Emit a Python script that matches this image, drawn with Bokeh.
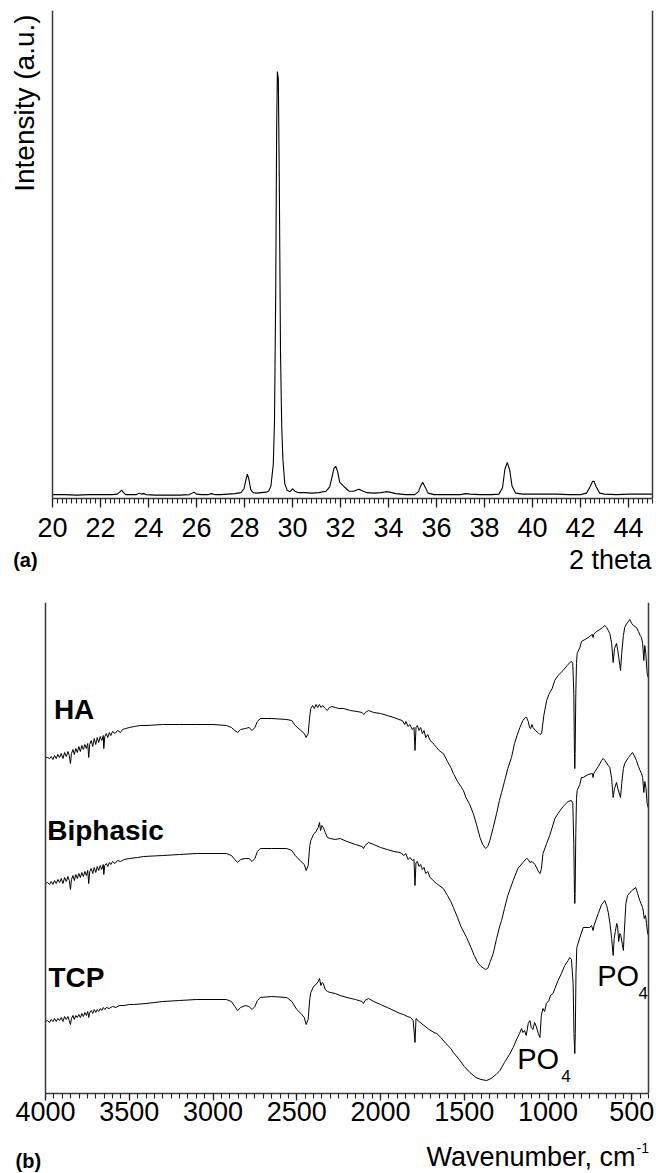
from math import pi
from bokeh.plotting import figure
from bokeh.models import Range1d, SingleIntervalTicker, Label, Span
from bokeh.layouts import column
from bokeh.embed import file_html
from bokeh.resources import INLINE

FONT = "Liberation Sans"

# ---------------- (a) XRD pattern ----------------
two_theta = [20.0, 20.5, 21.0, 21.5, 22.0, 22.5, 22.7, 22.8, 22.88, 22.96, 23.05, 23.3, 23.5, 23.62, 23.7,
             23.8, 23.9, 24.3, 24.8, 25.3, 25.7, 25.82, 25.9, 26.0, 26.2, 26.5, 26.62, 26.75, 27.0, 27.3,
             27.6, 27.85, 27.98, 28.06, 28.12, 28.18, 28.26, 28.36, 28.5, 28.7, 28.9, 29.0, 29.1, 29.2,
             29.25, 29.3, 29.34, 29.37, 29.41, 29.45, 29.5, 29.55, 29.6, 29.68, 29.78, 29.9, 30.0, 30.1,
             30.25, 30.5, 30.8, 31.1, 31.4, 31.55, 31.65, 31.73, 31.8, 31.88, 31.97, 32.1, 32.2, 32.35,
             32.55, 32.7, 32.78, 32.9, 33.1, 33.4, 33.7, 33.9, 34.05, 34.3, 34.7, 35.1, 35.25, 35.35,
             35.43, 35.52, 35.65, 35.9, 36.5, 37.0, 37.2, 37.4, 37.8, 38.3, 38.6, 38.75, 38.85, 38.95,
             39.05, 39.15, 39.3, 39.6, 40.0, 40.5, 41.0, 41.5, 42.0, 42.25, 42.4, 42.5, 42.57, 42.65,
             42.8, 43.0, 43.5, 44.0, 44.5, 45.0]
intensity = [8, 8, 7, 8, 8, 8, 9, 13, 17, 12, 8, 8, 8, 11, 9,
             10, 8, 7, 7, 7, 8, 11, 13, 9, 8, 8, 10, 8, 8, 9,
             10, 12, 20, 38, 50, 40, 18, 12, 11, 12, 13, 15, 25, 70,
             160, 420, 760, 875, 860, 650, 300, 150, 80, 30, 17, 14, 20, 15,
             12, 12, 11, 12, 15, 24, 45, 62, 66, 55, 33, 27, 22, 15,
             15, 18, 19, 16, 12, 11, 12, 14, 13, 10, 8, 8, 14, 27,
             33, 24, 11, 8, 8, 8, 10, 9, 8, 8, 9, 22, 60, 74,
             58, 25, 11, 9, 9, 9, 9, 8, 8, 11, 24, 35, 35, 24,
             11, 9, 8, 9, 9, 9]
xrd_start, xrd_end = 20, 45

# ---------------- (b) FTIR spectra ----------------
ha_wn = [4000, 3988, 3976, 3966, 3956, 3946, 3936, 3926, 3916, 3906, 3896, 3886, 3876, 3866, 3858, 3851, 3845,
         3836, 3828, 3819, 3810, 3801, 3792, 3783, 3774, 3765, 3756, 3748, 3742, 3736, 3727, 3718, 3709, 3700,
         3691, 3682, 3673, 3664, 3655, 3652, 3646, 3637, 3628, 3619, 3610, 3600, 3585, 3570, 3553, 3540, 3520,
         3500, 3470, 3434, 3400, 3300, 3200, 3100, 3000, 2920, 2890, 2870, 2853, 2835, 2807, 2785, 2767, 2750,
         2735, 2718, 2650, 2560, 2530, 2509, 2475, 2455, 2444, 2432, 2422, 2416, 2405, 2395, 2385, 2375, 2365,
         2355, 2345, 2330, 2318, 2305, 2290, 2270, 2250, 2220, 2180, 2140, 2110, 2100, 2090, 2072, 2040, 2000,
         1960, 1920, 1890, 1870, 1855, 1848, 1835, 1825, 1810, 1800, 1794, 1788, 1780, 1770, 1760, 1750, 1740,
         1730, 1718, 1704, 1690, 1680, 1665, 1650, 1635, 1625, 1600, 1580, 1565, 1540, 1520, 1505, 1490, 1470,
         1446, 1425, 1406, 1390, 1372, 1360, 1347, 1327, 1307, 1290, 1277, 1260, 1240, 1218, 1200, 1185, 1168,
         1150, 1135, 1128, 1118, 1110, 1104, 1096, 1090, 1075, 1060, 1048, 1038, 1025, 1008, 995, 989, 975, 960,
         940, 910, 885, 870, 860, 852, 846, 842, 840, 838, 834, 830, 826, 810, 800, 780, 760, 745, 735, 731,
         727, 710, 690, 675, 661, 650, 640, 631, 620, 611, 603, 591, 583, 567, 560, 550, 542, 530, 520, 512,
         500, 490, 472, 460, 450, 442, 435, 428, 422, 416, 408, 400]
ha_t = [336, 336, 335, 337, 334, 338, 335, 339, 336, 340, 335, 341, 337, 342, 338, 330, 340,
        344, 339, 345, 341, 347, 342, 348, 344, 349, 345, 350, 336, 349, 353, 347, 355, 349,
        356, 351, 357, 353, 358, 345, 357, 360, 356, 361, 358, 362, 360, 363, 361, 364, 365,
        366, 367, 368, 368, 369, 369, 369, 369, 368, 366, 363, 361, 364, 365, 366, 363, 366,
        372, 375, 375, 374, 373, 368, 363, 360, 356, 360, 378, 385, 388, 385, 389, 386, 389,
        386, 388, 385, 383, 386, 387, 386, 385, 385, 383, 382, 381, 379, 381, 383, 381, 380,
        378, 376, 374, 373, 369, 372, 367, 369, 364, 366, 343, 366, 368, 363, 366, 360, 363,
        356, 359, 353, 351, 349, 346, 343, 341, 340, 332, 326, 320, 312, 307, 303, 296, 290,
        280, 268, 256, 249, 245, 247, 253, 266, 280, 293, 301, 312, 325, 336, 350, 358, 366,
        373, 376, 376, 372, 366, 365, 369, 366, 363, 361, 359, 360, 378, 393, 399, 401, 405, 413,
        418, 423, 428, 431, 432, 430, 400, 340, 325, 340, 400, 430, 440, 446, 452, 454, 456, 458, 459, 456,
        459, 462, 464, 466, 468, 466, 463, 460, 450, 431, 445, 450, 443, 423, 440, 458, 466, 470, 472, 474,
        470, 468, 466, 462, 458, 456, 450, 433, 448, 440, 420, 415]

bi_wn = [4000, 3988, 3976, 3966, 3956, 3946, 3936, 3926, 3916, 3906, 3896, 3886, 3876, 3866, 3858, 3851, 3845,
         3836, 3828, 3819, 3810, 3801, 3792, 3783, 3774, 3765, 3756, 3748, 3742, 3736, 3727, 3718, 3709, 3700,
         3691, 3682, 3673, 3664, 3655, 3652, 3646, 3637, 3628, 3619, 3610, 3600, 3585, 3570, 3553, 3530, 3500,
         3450, 3414, 3300, 3200, 3100, 3000, 2920, 2890, 2870, 2853, 2835, 2807, 2785, 2767, 2750, 2735, 2718,
         2650, 2560, 2530, 2509, 2475, 2455, 2444, 2432, 2422, 2416, 2400, 2385, 2372, 2364, 2358, 2350, 2341,
         2330, 2317, 2300, 2270, 2241, 2200, 2150, 2110, 2102, 2092, 2072, 2040, 2000, 1960, 1920, 1883, 1860,
         1850, 1835, 1824, 1810, 1800, 1794, 1788, 1780, 1770, 1760, 1750, 1740, 1730, 1718, 1704, 1690, 1680,
         1665, 1650, 1625, 1600, 1580, 1565, 1540, 1520, 1486, 1460, 1440, 1420, 1400, 1372, 1360, 1347, 1327,
         1307, 1287, 1277, 1260, 1240, 1208, 1180, 1150, 1128, 1118, 1108, 1095, 1078, 1060, 1048, 1040, 1030,
         1008, 990, 975, 959, 940, 910, 880, 860, 852, 846, 842, 840, 838, 834, 830, 826, 810, 800, 790, 760,
         735, 731, 727, 700, 680, 671, 660, 640, 631, 620, 611, 603, 591, 583, 567, 560, 550, 542, 520, 496,
         485, 472, 460, 450, 442, 435, 428, 422, 415, 408, 400]
bi_t = [210, 211, 209, 212, 209, 213, 210, 214, 211, 215, 210, 216, 212, 217, 213, 204, 214,
        218, 213, 219, 215, 220, 216, 221, 217, 222, 218, 223, 210, 222, 225, 220, 226, 221,
        227, 223, 228, 224, 229, 219, 228, 230, 227, 231, 229, 232, 230, 233, 232, 234, 235,
        236, 237, 238, 239, 240, 240, 240, 238, 234, 231, 234, 235, 235, 232, 235, 242, 245,
        245, 245, 243, 238, 232, 229, 223, 228, 248, 253, 259, 262, 266, 271, 263, 268, 266,
        261, 256, 255, 254, 255, 252, 249, 247, 245, 248, 251, 249, 246, 244, 242, 241, 238,
        240, 234, 236, 233, 234, 208, 231, 232, 227, 229, 224, 226, 220, 222, 216, 214, 212,
        210, 208, 205, 198, 192, 186, 176, 167, 156, 146, 138, 131, 127, 124, 125, 131, 140,
        155, 168, 173, 185, 198, 213, 225, 231, 235, 234, 231, 232, 229, 223, 220, 224, 240,
        250, 258, 266, 275, 280, 287, 292, 293, 290, 250, 200, 190, 200, 260, 295, 303, 309, 316, 316, 319,
        320, 316, 320, 327, 333, 335, 333, 328, 326, 315, 296, 305, 311, 305, 296, 310, 325, 330, 336, 341,
        338, 333, 327, 323, 320, 316, 301, 312, 305, 290, 285]

tcp_wn = [4000, 3988, 3976, 3966, 3956, 3946, 3936, 3926, 3916, 3906, 3896, 3886, 3876, 3866, 3858, 3851, 3845,
          3836, 3828, 3819, 3810, 3801, 3792, 3783, 3774, 3765, 3756, 3748, 3742, 3736, 3727, 3718, 3709, 3700,
          3691, 3682, 3673, 3664, 3655, 3646, 3637, 3620, 3600, 3580, 3560, 3530, 3500, 3473, 3400, 3300, 3200,
          3100, 3000, 2920, 2890, 2870, 2853, 2835, 2807, 2785, 2767, 2750, 2735, 2718, 2650, 2560, 2529, 2500,
          2475, 2455, 2444, 2432, 2422, 2416, 2400, 2385, 2372, 2364, 2356, 2348, 2341, 2330, 2317, 2300, 2270,
          2241, 2200, 2150, 2110, 2102, 2092, 2072, 2040, 2000, 1960, 1920, 1883, 1863, 1840, 1820, 1805, 1794,
          1788, 1770, 1740, 1710, 1680, 1664, 1640, 1610, 1580, 1565, 1530, 1500, 1466, 1430, 1400, 1366, 1340,
          1310, 1287, 1260, 1230, 1208, 1185, 1170, 1158, 1150, 1140, 1130, 1118, 1108, 1100, 1090, 1080, 1070,
          1058, 1048, 1040, 1030, 1020, 1010, 995, 985, 970, 959, 940, 920, 900, 880, 870, 860, 850, 845, 840,
          837, 833, 828, 810, 790, 760, 750, 740, 731, 725, 700, 680, 661, 650, 640, 630, 620, 611, 605, 598,
          590, 585, 578, 571, 565, 556, 550, 545, 535, 525, 500, 476, 465, 452, 445, 435, 425, 418, 412, 405, 400]
tcp_t = [72, 73, 71, 74, 72, 75, 72, 75, 73, 76, 72, 77, 74, 77, 73, 69, 75,
         78, 74, 78, 76, 79, 76, 80, 77, 81, 78, 82, 76, 81, 83, 80, 84, 81,
         84, 82, 85, 83, 86, 84, 86, 85, 87, 86, 88, 88, 89, 89, 90, 92, 93,
         94, 94, 94, 92, 87, 83, 86, 88, 87, 84, 87, 93, 96, 97, 96, 92, 84,
         80, 76, 69, 74, 95, 101, 107, 109, 112, 115, 108, 111, 110, 104, 102, 101, 100,
         98, 96, 94, 92, 90, 93, 95, 92, 89, 86, 83, 80, 79, 77, 76, 73, 51,
         75, 72, 68, 64, 61, 60, 56, 50, 45, 41, 34, 27, 21, 16, 14, 13, 15,
         19, 23, 31, 39, 46, 55, 60, 65, 61, 63, 58, 70, 73, 66, 64, 71, 67,
         60, 56, 78, 85, 82, 90, 93, 98, 100, 105, 113, 120, 128, 133, 136, 134, 110, 60, 40,
         60, 120, 146, 156, 166, 166, 166, 168, 163, 168, 180, 189, 193, 188, 181, 170, 155, 138, 155, 162,
         170, 168, 152, 160, 158, 149, 143, 160, 190, 198, 203, 206, 200, 193, 190, 186, 175, 178, 170, 160, 158]
wn_start, wn_end = 4000, 400

AXIS_COLOR = "#3a3a3a"
COMMON = dict(output_backend="svg", toolbar_location=None, title=None,
              min_border_left=4, min_border_right=2)


def base_style(p):
    p.grid.visible = False
    p.outline_line_color = None
    p.background_fill_color = "white"
    p.border_fill_color = "white"


def style_xaxis(p, bounds, interval, tick_out, standoff):
    p.yaxis.visible = False
    xa = p.xaxis[0]
    xa.bounds = bounds
    xa.ticker = SingleIntervalTicker(interval=interval, num_minor_ticks=10)
    xa.major_tick_in = 0
    xa.minor_tick_in = 0
    xa.major_tick_out = tick_out
    xa.minor_tick_out = 5
    xa.major_label_standoff = standoff
    xa.axis_line_color = AXIS_COLOR
    xa.axis_line_width = 1.3
    xa.major_tick_line_color = "#222222"
    xa.minor_tick_line_color = "#222222"
    xa.major_tick_line_width = 1.3
    xa.minor_tick_line_width = 1.1
    xa.major_label_text_font = FONT
    xa.major_label_text_font_size = "27px"
    xa.major_label_text_color = "black"


def frame_lines(p, left, right):
    for loc in (left, right):
        p.add_layout(Span(location=loc, dimension="height", line_color=AXIS_COLOR, line_width=1.5))


def txt(x, y, text, size, align="left", bold=False, **kw):
    return Label(x=x, y=y, text=text, text_font=FONT, text_font_size=size, text_color="black",
                 text_align=align, text_baseline="middle",
                 text_font_style="bold" if bold else "normal", **kw)


# ---- figure (a): frame spans page x 4..654, 20 -> x=52, 45 -> x=652
p1 = figure(width=656, height=546, x_range=Range1d(18.0, 45.0833), y_range=Range1d(0, 1000),
            min_border_top=10, min_border_bottom=48, **COMMON)
base_style(p1)
style_xaxis(p1, (xrd_start, xrd_end), 2, 9, 10)
p1.line(two_theta, intensity, line_color="black", line_width=1.1)
frame_lines(p1, xrd_start, xrd_end)
p1.add_layout(txt(18.83, 992, "Intensity (a.u.)", "28px", align="right", angle=pi / 2))

# ---- caption strip under (a): data coordinates equal page pixels
s1 = figure(width=656, height=34, x_range=Range1d(4, 654), y_range=Range1d(580, 546),
            x_axis_type=None, y_axis_type=None, min_border_top=0, min_border_bottom=0, **COMMON)
base_style(s1)
s1.add_layout(txt(651, 559, "2 theta", "27px", align="right"))
s1.add_layout(txt(12.7, 559, "(a)", "20px", bold=True))

# ---- figure (b): frame spans page x 4..654, 4000 -> x=45, 400 -> x=648
p2 = figure(width=656, height=553, x_range=Range1d(4244.8, 364.2), y_range=Range1d(0, 491),
            min_border_top=22, min_border_bottom=40, **COMMON)
base_style(p2)
style_xaxis(p2, (wn_end, wn_start), 500, 7, 1)
for wn, t in ((ha_wn, ha_t), (bi_wn, bi_t), (tcp_wn, tcp_t)):
    p2.line(wn, t, line_color="black", line_width=1.0)
frame_lines(p2, wn_start, wn_end)

p2.add_layout(txt(3950, 384, "HA", "28px", bold=True))
p2.add_layout(txt(3990, 263, "Biphasic", "28px", bold=True))
p2.add_layout(txt(3982, 116, "TCP", "28px", bold=True))
p2.add_layout(txt(1184, 35, "PO", "29px"))
p2.add_layout(txt(921, 18, "4", "17px"))
p2.add_layout(txt(706, 118, "PO", "29px"))
p2.add_layout(txt(460, 101, "4", "17px"))

# ---- caption strip under (b)
s2 = figure(width=656, height=39, x_range=Range1d(4, 654), y_range=Range1d(1172, 1133),
            x_axis_type=None, y_axis_type=None, min_border_top=0, min_border_bottom=0, **COMMON)
base_style(s2)
s2.add_layout(txt(635, 1156, "Wavenumber, cm", "27px", align="right"))
s2.add_layout(txt(636, 1147, "-1", "14px"))
s2.add_layout(txt(15, 1160, "(b)", "20px", bold=True))

layout = column(p1, s1, p2, s2, spacing=0)
open("out.html", "w").write(file_html(layout, INLINE, title="XRD and FTIR"))
